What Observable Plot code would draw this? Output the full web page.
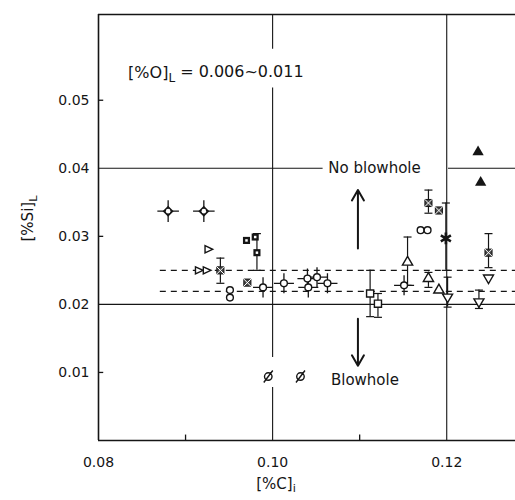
<!DOCTYPE html>
<html><head><meta charset="utf-8">
<script src="https://cdn.jsdelivr.net/npm/d3@7"></script>
<script src="https://cdn.jsdelivr.net/npm/@observablehq/plot@0.6"></script>
<style>body{margin:0;background:#fff} svg{display:block}</style>
</head><body><div id="chart"></div>
<script>
// ---- axes ----
const xDomain = [0.08, 0.1279];
const yDomain = [0, 0.0626];
const xTickLabels = [0.08, 0.10, 0.12];
const yTickLabels = [0.01, 0.02, 0.03, 0.04, 0.05];
const xMinorTicks = [0.09, 0.11];
const yMinorTicks = [0.01, 0.03, 0.05];

// ---- guide lines ----
const hGuideY  = [0.04, 0.04, 0.02];
const hGuideX1 = [0.08, 0.1202, 0.08];
const hGuideX2 = [0.1058, 0.1279, 0.1279];
const vGuideX  = [0.10, 0.10, 0.10, 0.12];
const vGuideY1 = [0, 0.0122, 0.0575, 0];
const vGuideY2 = [0.0078, 0.0518, 0.0626, 0.0626];
const dashY = [0.0250, 0.0219];
const dashX1 = [0.0871, 0.0871];
const dashX2 = [0.1279, 0.1279];

// ---- data series (by symbol) ----
const cdiamX = [0.0880, 0.0921], cdiamY = [0.0337, 0.0337];
const rtriX = [0.0926, 0.0915, 0.0924], rtriY = [0.0281, 0.0250, 0.0250];
const xsqX = [0.0940, 0.0971, 0.1179, 0.1191, 0.1248], xsqY = [0.0250, 0.0232, 0.0349, 0.0338, 0.0276];
const circX = [0.0951, 0.0951, 0.1170, 0.1178], circY = [0.0221, 0.0210, 0.0309, 0.0309];
const fsqX = [0.0970, 0.0980, 0.0982], fsqY = [0.0294, 0.0299, 0.0276];
const scircX = [0.0989, 0.1013, 0.1040, 0.1051, 0.1063, 0.1041, 0.1151];
const scircY = [0.0225, 0.0231, 0.0238, 0.0240, 0.0231, 0.0225, 0.0228];
const osqX = [0.1112, 0.1121], osqY = [0.0216, 0.0201];
const ftriX = [0.1236, 0.1239], ftriY = [0.0424, 0.0379];
const astX = [0.1199], astY = [0.0297];
const utriX = [0.1155, 0.1179, 0.1191], utriY = [0.0262, 0.0238, 0.0221];
const dtriX = [0.1248, 0.1201, 0.1237], dtriY = [0.0238, 0.0210, 0.0203];
const slashX = [0.0995, 0.1032], slashY = [0.0094, 0.0094];

// ---- error bars ----
const errX  = [0.0940, 0.0982, 0.1112, 0.1121, 0.1179, 0.1199, 0.1248, 0.1155, 0.1179, 0.1201, 0.1237];
const errLo = [0.0231, 0.0250, 0.0182, 0.0181, 0.0334, 0.0250, 0.0254, 0.0228, 0.0225, 0.0196, 0.0194];
const errHi = [0.0268, 0.0304, 0.0250, 0.0216, 0.0368, 0.0349, 0.0304, 0.0299, 0.0247, 0.0240, 0.0221];

// ---- arrows ----
const arrowX = [0.1098, 0.1098];
const arrowFrom = [0.0282, 0.0179];
const arrowTo = [0.0368, 0.0110];

// ---- labels ----
const annText = ["No blowhole", "Blowhole"];
const annX = [0.1064, 0.1067];
const annY = [0.0400, 0.0088];
const condText = "[%O]_L = 0.006~0.011";
const condX = 0.0834, condY = 0.0540;
const yLabel = "[%Si]_L";
const xLabel = "[%C]_i";

const ink = "#151515";
const rad = s => Math.sqrt(s / Math.PI);
const hbar = {draw(c, s){ const r = rad(s); c.moveTo(-r, 0); c.lineTo(r, 0); }};
const rtri = {draw(c, s){ const r = rad(s); c.moveTo(-r*0.7, -r*0.8); c.lineTo(r, 0); c.lineTo(-r*0.7, r*0.8); c.closePath(); }};
const dtri = {draw(c, s){ const r = rad(s); c.moveTo(-r, -r*0.7); c.lineTo(r, -r*0.7); c.lineTo(0, r); c.closePath(); }};
const rhomb = {draw(c, s){ const r = rad(s); c.moveTo(0, -r); c.lineTo(r, 0); c.lineTo(0, r); c.lineTo(-r, 0); c.closePath(); }};
const slash = {draw(c, s){ const r = rad(s); c.moveTo(r*0.75, 0); c.arc(0, 0, r*0.75, 0, 2*Math.PI); c.moveTo(r*0.9, -r*1.2); c.lineTo(-r*0.9, r*1.2); }};

const pts = (X, Y) => X.map((x, i) => ({x, y: Y[i]}));
const err = errX.map((x, i) => ({x, lo: errLo[i], hi: errHi[i]}));

const plot = Plot.plot({
  width: 515, height: 500,
  marginLeft: 98, marginRight: 0, marginTop: 14, marginBottom: 60,
  style: {fontFamily: "DejaVu Sans", fontSize: "14px", color: ink, background: "#fff"},
  x: {domain: xDomain},
  y: {domain: yDomain},
  marks: [
    Plot.axisX(xTickLabels, {tickSize: 0, tickPadding: 17, tickFormat: d3.format(".2f"), label: null, fontSize: 14}),
    Plot.axisY(yTickLabels, {tickSize: 0, tickPadding: 9, tickFormat: d3.format(".2f"), label: null, fontSize: 14}),
    // frame
    Plot.ruleX([xDomain[0]], {stroke: ink, strokeWidth: 1.6}),
    Plot.ruleY([yDomain[0], yDomain[1]], {stroke: ink, strokeWidth: 1.6}),
    // minor ticks
    Plot.ruleY(yMinorTicks, {x1: 0.08, x2: 0.0806, stroke: ink, strokeWidth: 1.3}),
    Plot.ruleX(xMinorTicks, {y1: 0, y2: 0.0008, stroke: ink, strokeWidth: 1.3}),
    // guides
    Plot.ruleY(hGuideY.map((y, i) => ({y, x1: hGuideX1[i], x2: hGuideX2[i]})), {y: "y", x1: "x1", x2: "x2", stroke: ink, strokeWidth: 1.1}),
    Plot.ruleX(vGuideX.map((x, i) => ({x, y1: vGuideY1[i], y2: vGuideY2[i]})), {x: "x", y1: "y1", y2: "y2", stroke: ink, strokeWidth: 1.1}),
    Plot.ruleY(dashY.map((y, i) => ({y, x1: dashX1[i], x2: dashX2[i]})), {y: "y", x1: "x1", x2: "x2", stroke: ink, strokeWidth: 1.2, strokeDasharray: "6,5"}),
    // error bars
    Plot.ruleX(err, {x: "x", y1: "lo", y2: "hi", stroke: ink, strokeWidth: 1.2}),
    Plot.dot(err, {x: "x", y: "lo", symbol: hbar, r: 4, stroke: ink, strokeWidth: 1.2}),
    Plot.dot(err, {x: "x", y: "hi", symbol: hbar, r: 4, stroke: ink, strokeWidth: 1.2}),
    // arrows
    Plot.arrow(arrowX.map((x, i) => ({x, a: arrowFrom[i], b: arrowTo[i]})), {x1: "x", x2: "x", y1: "a", y2: "b", stroke: ink, strokeWidth: 2, headLength: 9, bend: 0}),
    // series
    Plot.dot(pts(cdiamX, cdiamY), {x: "x", y: "y", symbol: "plus", r: 7, stroke: ink, strokeWidth: 1.3}),
    Plot.dot(pts(cdiamX, cdiamY), {x: "x", y: "y", symbol: rhomb, r: 5.5, fill: ink}),
    Plot.dot(pts(cdiamX, cdiamY), {x: "x", y: "y", symbol: "circle", r: 2.3, fill: "#fff"}),
    Plot.dot(pts(rtriX, rtriY), {x: "x", y: "y", symbol: rtri, r: 4.5, fill: "#fff", stroke: ink, strokeWidth: 1.4}),
    Plot.dot(pts(xsqX, xsqY), {x: "x", y: "y", symbol: "square", r: 4, fill: "#444", stroke: ink, strokeWidth: 1}),
    Plot.dot(pts(xsqX, xsqY), {x: "x", y: "y", symbol: "times", r: 3.5, stroke: "#fff", strokeWidth: 1}),
    Plot.dot(pts(circX, circY), {x: "x", y: "y", symbol: "circle", r: 3.4, fill: "#fff", stroke: ink, strokeWidth: 1.4}),
    Plot.dot(pts(fsqX, fsqY), {x: "x", y: "y", symbol: "square", r: 4, fill: ink}),
    Plot.dot(pts(fsqX, fsqY), {x: "x", y: "y", symbol: "square", r: 1.4, fill: "#fff"}),
    Plot.dot(pts(scircX, scircY), {x: "x", y: "y", symbol: "plus", r: 6.5, stroke: ink, strokeWidth: 1.3}),
    Plot.dot(pts(scircX, scircY), {x: "x", y: "y", symbol: "circle", r: 3.4, fill: "#fff", stroke: ink, strokeWidth: 1.4}),
    Plot.dot(pts(osqX, osqY), {x: "x", y: "y", symbol: "square", r: 4, fill: "#fff", stroke: ink, strokeWidth: 1.4}),
    Plot.dot(pts(ftriX, ftriY), {x: "x", y: "y", symbol: "triangle", r: 4.2, fill: ink}),
    Plot.dot(pts(astX, astY), {x: "x", y: "y", symbol: "asterisk", r: 5.5, stroke: ink, strokeWidth: 2.6}),
    Plot.dot(pts(utriX, utriY), {x: "x", y: "y", symbol: "triangle", r: 3.8, fill: "#fff", stroke: ink, strokeWidth: 1.4}),
    Plot.dot(pts(dtriX, dtriY), {x: "x", y: "y", symbol: dtri, r: 5, fill: "#fff", stroke: ink, strokeWidth: 1.4}),
    Plot.dot(pts(slashX, slashY), {x: "x", y: "y", symbol: slash, r: 5, stroke: ink, strokeWidth: 1.4}),
    // annotations
    Plot.text(annText.map((t, i) => ({t, x: annX[i], y: annY[i]})), {x: "x", y: "y", text: "t", textAnchor: "start", fontSize: 15, fill: ink}),
    Plot.text([condText], {x: condX, y: condY, textAnchor: "start", fontSize: 16, fill: ink}),
    Plot.text([yLabel], {frameAnchor: "left", dx: -70, dy: 14, rotate: -90, fontSize: 15, fill: ink}),
    Plot.text([xLabel], {frameAnchor: "bottom", dx: -31, dy: 48, fontSize: 15, fill: ink})
  ]
});

// subscripts
d3.select(plot).selectAll("text").each(function(){
  const t = this.textContent;
  const m = t.match(/^(.*?)_(\w)(.*)$/);
  if (m) {
    const sel = d3.select(this).text(null);
    sel.append("tspan").text(m[1]);
    sel.append("tspan").attr("dy", "0.35em").attr("font-size", "0.75em").text(m[2]);
    if (m[3]) sel.append("tspan").attr("dy", "-0.35em").text(m[3]);
  }
});
document.getElementById("chart").append(plot);
</script></body></html>
